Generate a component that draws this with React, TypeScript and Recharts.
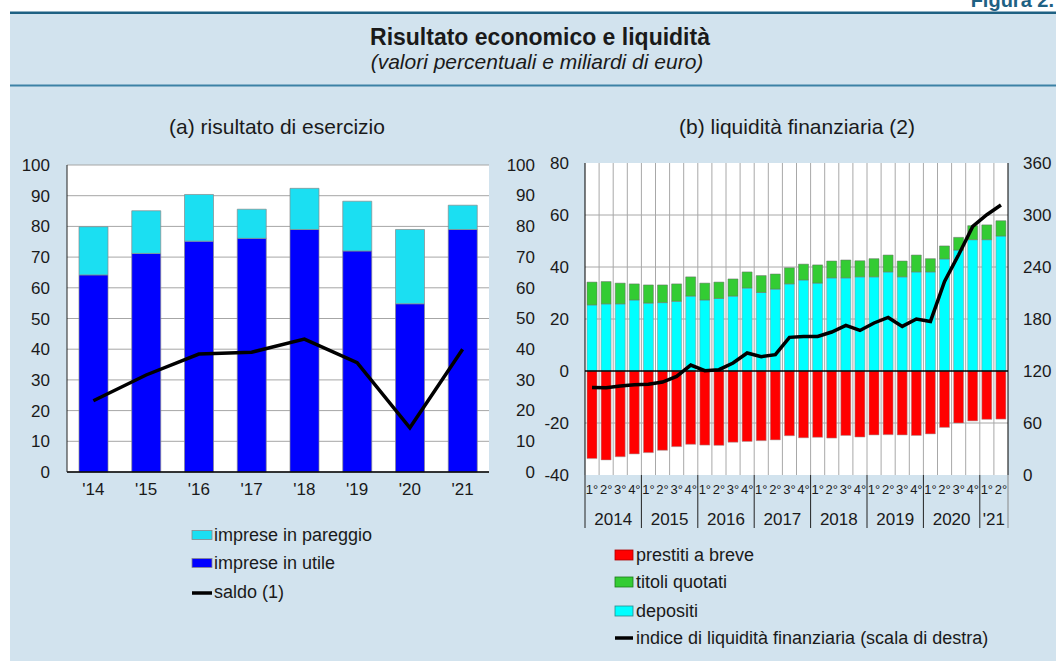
import React from "react";
import { ComposedChart, Bar, Line, XAxis, YAxis, CartesianGrid, ReferenceLine } from "recharts";

// ---------- panel (a) ----------
const annualCategories = ["'14", "'15", "'16", "'17", "'18", "'19", "'20", "'21"];
const impreseInUtile = [64.2, 71.2, 75.2, 76.1, 79.0, 72.0, 54.8, 79.0];
const impreseInPareggio = [15.7, 13.9, 15.2, 9.5, 13.4, 16.2, 24.2, 7.9];
const saldoValues = [23.2, 31.6, 38.4, 39.0, 43.3, 35.6, 14.4, 40.0];
const leftTicks = [0, 10, 20, 30, 40, 50, 60, 70, 80, 90, 100];

// ---------- panel (b) ----------
const quarterLabels = [
  "1°", "2°", "3°", "4°", "1°", "2°", "3°", "4°", "1°", "2°", "3°", "4°",
  "1°", "2°", "3°", "4°", "1°", "2°", "3°", "4°", "1°", "2°", "3°", "4°",
  "1°", "2°", "3°", "4°", "1°", "2°",
];
const yearLabels = ["2014", "2015", "2016", "2017", "2018", "2019", "2020", "'21"];
const yearQuarterCounts = [4, 4, 4, 4, 4, 4, 4, 2];
const depositi = [
  25.4, 25.8, 25.8, 27.3, 26.1, 26.3, 26.8, 28.8, 27.3, 27.9, 28.8, 31.9,
  30.2, 31.5, 33.5, 35.0, 33.8, 35.8, 35.8, 36.2, 36.2, 38.1, 36.2, 38.1,
  38.1, 43.1, 46.5, 50.5, 50.5, 51.9,
];
const titoliQuotati = [
  8.8, 8.6, 8.0, 6.2, 7.0, 6.8, 6.7, 7.4, 6.5, 6.3, 6.6, 6.2,
  6.5, 5.8, 6.2, 6.1, 7.0, 6.5, 6.9, 6.2, 7.0, 6.5, 6.1, 6.5,
  5.1, 5.0, 4.9, 5.4, 5.7, 5.9,
];
const prestitiBreve = [
  -33.7, -34.2, -33.0, -31.9, -31.4, -30.5, -29.1, -28.2, -28.5, -28.6, -27.4, -27.1,
  -26.8, -26.5, -24.9, -25.7, -25.5, -25.8, -24.8, -25.4, -24.6, -24.5, -24.6, -24.8,
  -24.2, -21.7, -20.0, -19.2, -18.6, -18.5,
];
const indiceLiquidita = [
  101.0, 100.8, 102.7, 104.2, 104.6, 107.3, 113.8, 126.9, 120.3, 121.5, 129.2, 140.8,
  136.5, 138.8, 158.8, 159.9, 159.9, 165.0, 172.6, 166.8, 175.4, 181.8, 171.5, 180.0,
  177.2, 223.4, 254.2, 286.8, 300.3, 311.5,
];
const mainTicks = [-40, -20, 0, 20, 40, 60, 80];
const indexTicks = [0, 60, 120, 180, 240, 300, 360];
const pctTicks = [0, 10, 20, 30, 40, 50, 60, 70, 80, 90, 100];

const FONT = "'Liberation Sans', Arial, Helvetica, sans-serif";
const TXT = "#1a1a1a";

const leftData = annualCategories.map((c, i) => ({
  cat: c,
  utile: impreseInUtile[i],
  pareggio: impreseInPareggio[i],
  saldo: saldoValues[i],
}));

const rightData = quarterLabels.map((q, i) => ({
  k: i,
  q,
  depositi: depositi[i],
  titoli: titoliQuotati[i],
  prestiti: prestitiBreve[i],
  indice: indiceLiquidita[i],
}));

// layout of panel (b)
const R_W = 556;
const R_H = 395;
const R_MAIN_W = 50;
const R_PCT_W = 35;
const R_RIGHT_W = 48;
const R_PLOT_W = R_W - R_MAIN_W - R_PCT_W - R_RIGHT_W;
const BW = R_PLOT_W / quarterLabels.length;

const groupStarts: number[] = [];
{
  let acc = 0;
  yearQuarterCounts.forEach((n) => {
    groupStarts.push(acc);
    acc += n;
  });
}

const QuarterTick = (props: any) => {
  const { x, y, payload } = props;
  const i = payload.index;
  const g = groupStarts.indexOf(i);
  const last = i === quarterLabels.length - 1;
  return (
    <g>
      <text x={x} y={y + 19} textAnchor="middle" fontSize={13} fill={TXT} fontFamily={FONT}>
        {quarterLabels[i]}
      </text>
      {g >= 0 && (
        <line x1={x - BW / 2} x2={x - BW / 2} y1={y} y2={y + 53} stroke="#222" strokeWidth={1} />
      )}
      {g >= 0 && (
        <text
          x={x - BW / 2 + (yearQuarterCounts[g] * BW) / 2}
          y={y + 50}
          textAnchor="middle"
          fontSize={17}
          fill={TXT}
          fontFamily={FONT}
        >
          {yearLabels[g]}
        </text>
      )}
      {last && <line x1={x + BW / 2} x2={x + BW / 2} y1={y} y2={y + 53} stroke="#888" strokeWidth={1} />}
    </g>
  );
};

const tickStyle = { fontSize: 17, fill: TXT, fontFamily: FONT };

export default function App() {
  return (
    <div style={{ position: "absolute", left: 0, top: 0, width: 1056, height: 661, background: "#fff", overflow: "hidden", fontFamily: FONT }}>
      <svg width={1056} height={661} style={{ position: "absolute", left: 0, top: 0 }}>
        <rect x={10} y={14} width={1046} height={647} fill="#D2E3EE" />
        <rect x={10} y={11.5} width={1046} height={2.5} fill="#1E6183" />
        <rect x={10} y={84.5} width={1046} height={2} fill="#3C82A5" />
        <text x={1054} y={7} textAnchor="end" fontSize={20} fontWeight="bold" fill="#1E6183">Figura 2.</text>
        <text x={540} y={45} textAnchor="middle" fontSize={23} fontWeight="bold" fill={TXT}>
          Risultato economico e liquidità
        </text>
        <text x={537} y={69} textAnchor="middle" fontSize={21} fontStyle="italic" fill={TXT}>
          (valori percentuali e miliardi di euro)
        </text>
        <text x={277} y={134} textAnchor="middle" fontSize={21} fill={TXT}>(a) risultato di esercizio</text>
        <text x={797} y={134} textAnchor="middle" fontSize={21} fill={TXT}>(b) liquidità finanziaria (2)</text>

        {/* legend (a) */}
        <rect x={192} y={530.5} width={20} height={9} fill="#1BDFF2" stroke="#888" strokeWidth={0.8} />
        <text x={214} y={541} fontSize={18} fill={TXT}>imprese in pareggio</text>
        <rect x={192} y={558.5} width={20} height={9} fill="#0000FF" stroke="#888" strokeWidth={0.8} />
        <text x={214} y={569} fontSize={18} fill={TXT}>imprese in utile</text>
        <line x1={192} x2={212} y1={593} y2={593} stroke="#000" strokeWidth={3.5} />
        <text x={214} y={598} fontSize={18} fill={TXT}>saldo (1)</text>

        {/* legend (b) */}
        <rect x={615} y={550} width={18} height={10} fill="#FF0000" stroke="#A00" strokeWidth={0.8} />
        <text x={636} y={561} fontSize={18} fill={TXT}>prestiti a breve</text>
        <rect x={615} y={577} width={18} height={10} fill="#33CC33" stroke="#1C7A1C" strokeWidth={0.8} />
        <text x={636} y={588} fontSize={18} fill={TXT}>titoli quotati</text>
        <rect x={615} y={606} width={18} height={10} fill="#00FFFF" stroke="#2A8A8A" strokeWidth={0.8} />
        <text x={636} y={617} fontSize={18} fill={TXT}>depositi</text>
        <line x1={615} x2={633} y1={638} y2={638} stroke="#000" strokeWidth={3.5} />
        <text x={636} y={644} fontSize={18} fill={TXT}>indice di liquidità finanziaria (scala di destra)</text>
      </svg>

      {/* panel (a) */}
      <div style={{ position: "absolute", left: 0, top: 140 }}>
        <ComposedChart width={500} height={362} data={leftData} margin={{ top: 25, right: 11, left: 0, bottom: 0 }}>
          <CartesianGrid vertical={false} stroke="#A6A6A6" fill="#FFFFFF" />
          <XAxis
            dataKey="cat"
            interval={0}
            height={30}
            tickSize={0}
            tickMargin={11}
            axisLine={{ stroke: "#000", strokeWidth: 1.5 }}
            tickLine={false}
            tick={tickStyle}
          />
          <XAxis xAxisId="top" orientation="top" height={0} tick={false} tickLine={false} axisLine={{ stroke: "#222" }} />
          <YAxis
            domain={[0, 100]}
            ticks={leftTicks}
            width={67}
            tickSize={0}
            tickMargin={17}
            axisLine={{ stroke: "#222" }}
            tickLine={false}
            tick={tickStyle}
          />
          <YAxis yAxisId="rb" orientation="right" width={0} tick={false} tickLine={false} axisLine={{ stroke: "#222" }} />
          <Bar dataKey="utile" stackId="s" fill="#0000FF" stroke="#8a8a8a" strokeWidth={0.7} barSize={29} isAnimationActive={false} />
          <Bar dataKey="pareggio" stackId="s" fill="#1BDFF2" stroke="#8a8a8a" strokeWidth={0.7} barSize={29} isAnimationActive={false} />
          <Line dataKey="saldo" type="linear" stroke="#000" strokeWidth={3.5} dot={false} isAnimationActive={false} />
        </ComposedChart>
      </div>

      {/* panel (b) */}
      <div style={{ position: "absolute", left: 500, top: 140 }}>
        <ComposedChart
          width={R_W}
          height={R_H}
          data={rightData}
          stackOffset="sign"
          margin={{ top: 23, right: 0, left: 0, bottom: 0 }}
        >
          <CartesianGrid
            yAxisId="main"
            stroke="#A8A8A8"
            fill="#FFFFFF"
            horizontalValues={[-20, 20, 40, 60]}
            verticalCoordinatesGenerator={({ offset }: any) =>
              quarterLabels.slice(1).map((_, k) => offset.left + ((k + 1) * offset.width) / quarterLabels.length)
            }
          />
          <XAxis
            dataKey="k"
            interval={0}
            height={60}
            tickSize={0}
            tickMargin={0}
            axisLine={false}
            tickLine={false}
            tick={<QuarterTick />}
          />
          <YAxis
            yAxisId="main"
            domain={[-40, 80]}
            ticks={mainTicks}
            width={R_MAIN_W}
            tickSize={0}
            tickMargin={16}
            axisLine={{ stroke: "#000" }}
            tickLine={false}
            tick={tickStyle}
          />
          <YAxis
            yAxisId="pct"
            domain={[-1.07, 100.55]}
            ticks={pctTicks}
            allowDataOverflow
            width={R_PCT_W}
            tickSize={0}
            tickMargin={0}
            axisLine={false}
            tickLine={false}
            tick={tickStyle}
          />
          <YAxis
            yAxisId="idx"
            orientation="right"
            domain={[0, 360]}
            ticks={indexTicks}
            width={R_RIGHT_W}
            tickSize={0}
            tickMargin={15}
            axisLine={{ stroke: "#000" }}
            tickLine={false}
            tick={{ ...tickStyle, textAnchor: "start" }}
          />
          <Bar yAxisId="main" dataKey="prestiti" stackId="r" fill="#FF0000" stroke="#9a9a9a" strokeWidth={0.5} barSize={10} isAnimationActive={false} />
          <Bar yAxisId="main" dataKey="depositi" stackId="r" fill="#00FFFF" stroke="#8a8a8a" strokeWidth={0.5} barSize={10} isAnimationActive={false} />
          <Bar yAxisId="main" dataKey="titoli" stackId="r" fill="#33CC33" stroke="#6a6a6a" strokeWidth={0.5} barSize={10} isAnimationActive={false} />
          <ReferenceLine yAxisId="main" y={0} stroke="#000" strokeWidth={1.5} />
          <Line yAxisId="idx" dataKey="indice" type="linear" stroke="#000" strokeWidth={3.5} dot={false} isAnimationActive={false} />
        </ComposedChart>
      </div>
    </div>
  );
}
